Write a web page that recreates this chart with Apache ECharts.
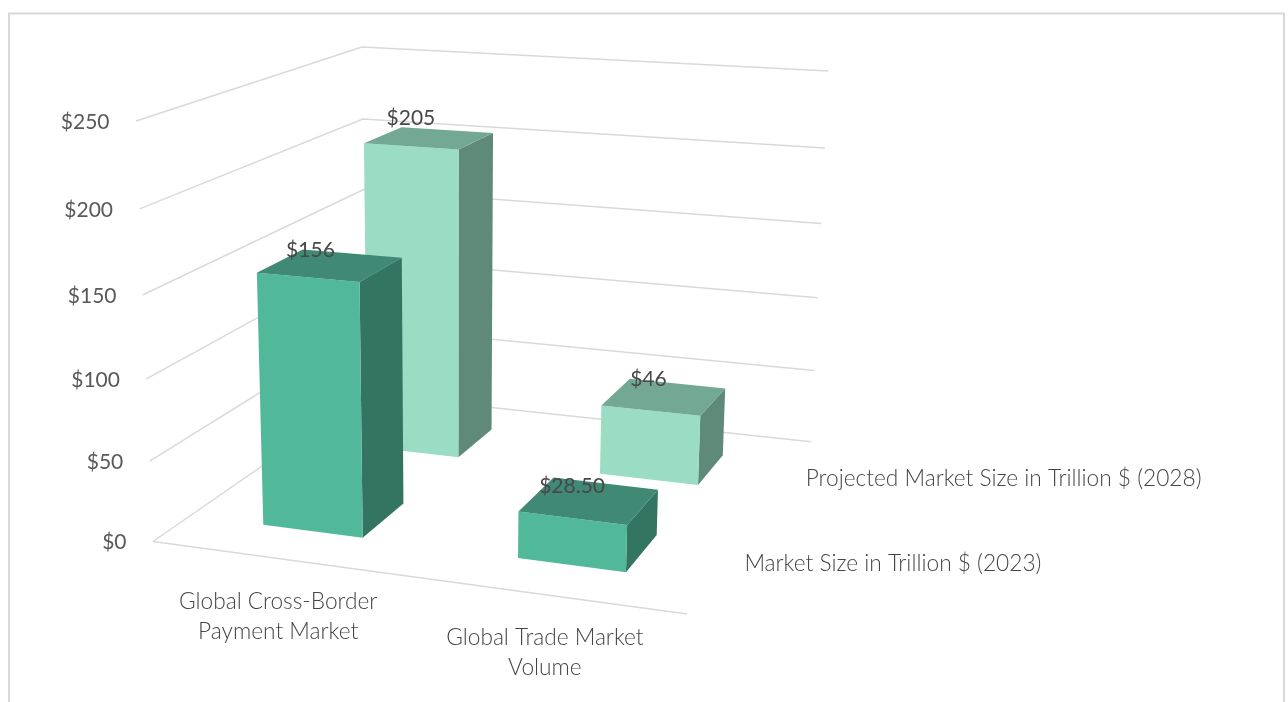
<!DOCTYPE html>
<html>
<head>
<meta charset="utf-8">
<style>html,body{margin:0;padding:0;background:#fff}#chart{width:1288px;height:702px}</style>
<script src="https://cdn.jsdelivr.net/npm/echarts@6/dist/echarts.min.js"></script>
</head>
<body>
<div id="chart"></div>
<script>
// Chart data
const categories = ['Global Cross-Border\nPayment Market', 'Global Trade Market\nVolume'];
const tickValues = [0, 50, 100, 150, 200, 250];
const tickLabels = ['$0', '$50', '$100', '$150', '$200', '$250'];
// Rows from front to back
const rowNames = ['Market Size in Trillion $ (2023)', 'Projected Market Size in Trillion $ (2028)'];
const values2028 = [205, 46];
const values2023 = [156, 28.5];
const valueLabels2028 = ['$205', '$46'];
const valueLabels2023 = ['$156', '$28.50'];

// Perspective camera: maps (across, depth, height), each 0..1, to the screen.
const CAMERA = [
  [477.8, 294.7, -24.3, 153],
  [22.2, -59.5, -427, 541.5],
  [-0.082, 0.2233, -0.0536, 1]
];
function project(u, d, h) {
  const r = CAMERA.map(c => c[0] * u + c[1] * d + c[2] * h + c[3]);
  return [r[0] / r[2], r[1] / r[2]];
}

const NUMBER_FONT = '21px Lato, sans-serif';
const TEXT_FONT = '300 22.7px Lato, sans-serif';
const AXIS_TEXT = '#595959';
const NAME_TEXT = '#454545';
const VALUE_TEXT = '#484848';
const GRID_LINE = '#d9d9d9';
const BAR_SPAN = 0.4; // share of a band taken by a bar, across and in depth

// Reads the library's axis scales and normalises them to the unit cube.
function toUnit(params, api, catIndex, value) {
  const cs = params.coordSys;
  const pt = api.coord([catIndex, value]);
  return { u: (pt[0] - cs.x) / cs.width, h: (cs.y + cs.height - pt[1]) / cs.height };
}
function textEl(text, pos, align, vAlign, fill, font, extra) {
  return {
    type: 'text', silent: true,
    style: Object.assign({
      text, x: pos[0], y: pos[1], font, fill,
      align, verticalAlign: vAlign, textAlign: align, textVerticalAlign: vAlign
    }, extra || {})
  };
}

function renderWall(params, api) {
  const { h } = toUnit(params, api, 0, api.value(1));
  const a = project(0, 0, h), b = project(0, 1, h), c = project(1, 1, h);
  const children = [{
    type: 'polyline', silent: true,
    shape: { points: [a, b, c] },
    style: { stroke: GRID_LINE, lineWidth: 1.5, fill: null }
  }];
  if (h === 0) {
    children.push({
      type: 'polyline', silent: true,
      shape: { points: [a, project(1, 0, 0)] },
      style: { stroke: GRID_LINE, lineWidth: 1.5, fill: null }
    });
  }
  const label = tickLabels[params.dataIndex];
  children.push(textEl(label, [a[0] - 26.5, a[1] + 1], 'right', 'middle', AXIS_TEXT, NUMBER_FONT));
  return { type: 'group', children };
}

function renderCategoryLabel(params, api) {
  const { u } = toUnit(params, api, api.value(0), 0);
  const p = project(u, 0, 0);
  return textEl(categories[params.dataIndex], [p[0], p[1] + 28], 'center', 'top', NAME_TEXT, TEXT_FONT, { lineHeight: 30 });
}

function renderRowLabel(params, api) {
  const d = (api.value(2) + 0.5) / rowNames.length;
  const p = project(1, d, 0);
  return textEl(rowNames[params.dataIndex], [p[0] + 21, p[1]], 'left', 'middle', NAME_TEXT, TEXT_FONT);
}

function barRenderer(depthIndex, colors, labels) {
  return function (params, api) {
    const { u, h } = toUnit(params, api, api.value(0), api.value(1));
    const d = (depthIndex + 0.5) / rowNames.length;
    const hw = (BAR_SPAN / categories.length) / 2;
    const hd = (BAR_SPAN / rowNames.length) / 2;
    const x0 = u - hw, x1 = u + hw, y0 = d - hd, y1 = d + hd;
    const poly = (pts, fill) => ({
      type: 'polygon', silent: false,
      shape: { points: pts.map(p => project(p[0], p[1], p[2])) },
      style: { fill, stroke: null }
    });
    const c = project(u, d, h);
    // Value label sits up and left of the top face; the offset grows with depth.
    const dx = -18.5 + (u - 0.5) * 5.5 + depthIndex * 1.5;
    const dy = -20.5 + (depthIndex === 0 ? 4 : 0) + 3 * (1 - h);
    return {
      type: 'group',
      children: [
        poly([[x1, y0, 0], [x1, y1, 0], [x1, y1, h], [x1, y0, h]], colors.side),
        poly([[x0, y0, 0], [x1, y0, 0], [x1, y0, h], [x0, y0, h]], colors.front),
        poly([[x0, y0, h], [x1, y0, h], [x1, y1, h], [x0, y1, h]], colors.top),
        textEl(labels[params.dataIndex], [c[0] + dx, c[1] + dy], 'center', 'middle', VALUE_TEXT, NUMBER_FONT)
      ]
    };
  };
}

const chart = echarts.init(document.getElementById('chart'), null, { renderer: 'canvas' });
chart.setOption({
  animation: false,
  backgroundColor: '#ffffff',
  graphic: [{
    type: 'polyline', silent: true,
    shape: { points: [[9, 702], [9, 13.5], [1284, 13.5], [1284, 702]] },
    style: { stroke: '#d9d9d9', lineWidth: 2, fill: null }
  }],
  grid: { left: 100, top: 60, width: 1000, height: 500 },
  xAxis: { type: 'category', data: categories, show: false },
  yAxis: { type: 'value', min: 0, max: 250, interval: 50, show: false },
  series: [
    { type: 'custom', name: 'Value axis', renderItem: renderWall, encode: { x: 0, y: 1 },
      data: tickValues.map(v => [0, v]) },
    { type: 'custom', name: 'Category axis', renderItem: renderCategoryLabel, encode: { x: 0, y: 1 },
      data: categories.map((c, i) => [i, 0]) },
    { type: 'custom', name: 'Depth axis', renderItem: renderRowLabel, encode: { x: 0, y: 1 },
      data: rowNames.map((n, i) => [0, 0, i]) },
    { type: 'custom', name: rowNames[1], encode: { x: 0, y: 1 },
      renderItem: barRenderer(1, { front: '#9adcc4', top: '#73a895', side: '#5f8a7a' }, valueLabels2028),
      data: values2028.map((v, i) => [i, v]) },
    { type: 'custom', name: rowNames[0], encode: { x: 0, y: 1 },
      renderItem: barRenderer(0, { front: '#52b89a', top: '#3f8975', side: '#337561' }, valueLabels2023),
      data: values2023.map((v, i) => [i, v]) }
  ]
});
</script>
</body>
</html>
